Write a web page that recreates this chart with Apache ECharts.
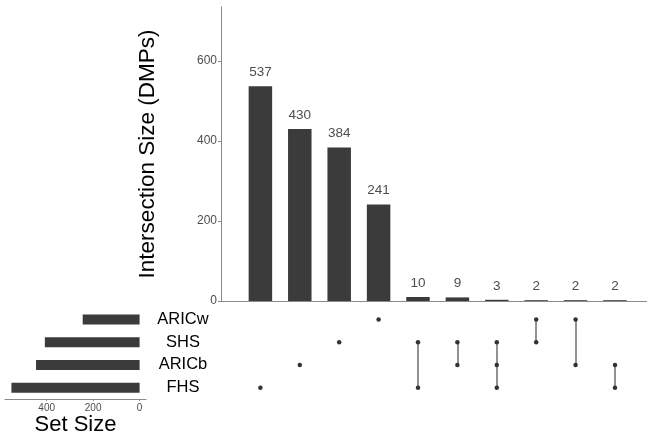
<!DOCTYPE html>
<html><head><meta charset="utf-8">
<script src="https://cdn.jsdelivr.net/npm/echarts@6/dist/echarts.min.js"></script>
<style>html,body{margin:0;padding:0;background:#fff}#c{width:648px;height:438px}</style>
</head><body><div id="c"></div>
<script>
// Data
var sets = ['FHS', 'ARICb', 'SHS', 'ARICw'];           // bottom to top
var setSizes = [552, 446, 408, 245];
var intersectionSizes = [537, 430, 384, 241, 10, 9, 3, 2, 2, 2];
var intersectionMembers = [
  ['FHS'], ['ARICb'], ['SHS'], ['ARICw'],
  ['SHS', 'FHS'], ['SHS', 'ARICb'], ['SHS', 'ARICb', 'FHS'],
  ['ARICw', 'SHS'], ['ARICw', 'ARICb'], ['ARICb', 'FHS']
];
var mainTicks = [0, 200, 400, 600];
var setTicks = [0, 200, 400];

var dark = '#3b3b3b', grayTxt = '#4d4d4d', axisGray = '#8a8a8a';
var font = 'Liberation Sans, Arial, sans-serif';

var barData = intersectionSizes.map(function (v, i) { return [i, v]; });
var dotData = [], segData = [];
intersectionMembers.forEach(function (m, i) {
  var idx = m.map(function (s) { return sets.indexOf(s); });
  idx.forEach(function (r) { dotData.push([i, r]); });
  if (idx.length > 1) {
    var lo = Math.min.apply(null, idx), hi = Math.max.apply(null, idx);
    segData.push({ coords: [[i, lo], [i, hi]] });
  }
});
var setData = setSizes.map(function (v, i) { return [v, i]; });

var chart = echarts.init(document.getElementById('c'), null, { renderer: 'canvas' });
chart.setOption({
  animation: false,
  textStyle: { fontFamily: font },
  grid: [
    { left: 221, top: 7, width: 425.5, height: 294, outerBoundsMode: 'none', containLabel: false },
    { left: 221, top: 308, width: 425.5, height: 91, outerBoundsMode: 'none', containLabel: false },
    { left: 5, top: 308, width: 141, height: 91, outerBoundsMode: 'none', containLabel: false }
  ],
  xAxis: [
    { gridIndex: 0, type: 'value', min: -1, max: 9.8, axisLine: { show: true, onZero: false, lineStyle: { color: axisGray, width: 1 } },
      axisTick: { show: false }, axisLabel: { show: false }, splitLine: { show: false } },
    { gridIndex: 1, type: 'value', min: -1, max: 9.8, show: false },
    { gridIndex: 2, type: 'value', min: -27.6, max: 579.6, inverse: true,
      axisLine: { show: true, onZero: false, lineStyle: { color: axisGray, width: 1 } },
      axisTick: { show: true, length: 2, customValues: setTicks, lineStyle: { color: axisGray } },
      axisLabel: { customValues: setTicks, color: grayTxt, fontSize: 10, margin: 4, fontFamily: font },
      splitLine: { show: false },
      name: 'Set Size', nameLocation: 'middle', nameGap: 12,
      nameTextStyle: { color: '#000', fontSize: 22, fontFamily: font } }
  ],
  yAxis: [
    { gridIndex: 0, type: 'value', min: 0, max: 735,
      axisLine: { show: true, onZero: false, lineStyle: { color: axisGray, width: 1 } },
      axisTick: { show: true, length: 3, customValues: mainTicks, lineStyle: { color: axisGray } },
      axisLabel: { customValues: mainTicks, color: grayTxt, fontSize: 12, margin: 4, fontFamily: font },
      splitLine: { show: false },
      name: 'Intersection Size (DMPs)', nameLocation: 'middle', nameGap: 62, nameRotate: 90,
      nameTextStyle: { color: '#000', fontSize: 22.5, fontFamily: font } },
    { gridIndex: 1, type: 'category', data: sets, boundaryGap: true,
      axisLine: { show: false, onZero: false }, axisTick: { show: false },
      axisLabel: { color: '#000', fontSize: 16.5, align: 'center', margin: 38, fontFamily: font } },
    { gridIndex: 2, type: 'category', data: sets, show: false }
  ],
  series: [
    { type: 'bar', xAxisIndex: 0, yAxisIndex: 0, data: barData, barWidth: 23.5,
      itemStyle: { color: dark },
      label: { show: true, position: 'top', distance: 7, color: grayTxt, fontSize: 13.5, fontFamily: font } },
    { type: 'lines', coordinateSystem: 'cartesian2d', xAxisIndex: 1, yAxisIndex: 1, data: segData,
      lineStyle: { color: '#6e6e6e', width: 1.5, opacity: 1 }, z: 2 },
    { type: 'scatter', xAxisIndex: 1, yAxisIndex: 1, data: dotData, symbolSize: 4.5,
      itemStyle: { color: '#333', opacity: 1 }, z: 3 },
    { type: 'bar', xAxisIndex: 2, yAxisIndex: 2, data: setData, barWidth: 10,
      itemStyle: { color: dark } }
  ]
});
</script></body></html>
